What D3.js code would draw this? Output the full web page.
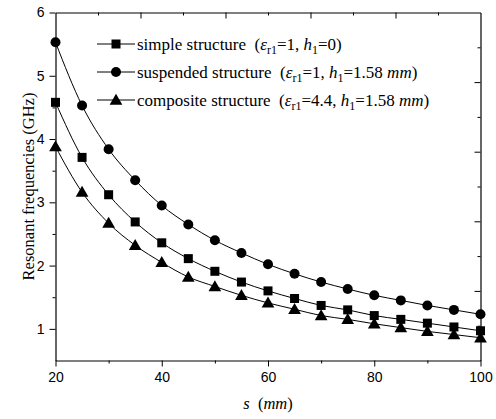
<!DOCTYPE html>
<html>
<head>
<meta charset="utf-8">
<script src="https://cdn.jsdelivr.net/npm/d3@7"></script>
<style>
  body { margin: 0; background: #fff; }
  svg { display: block; }
  .tick text { font-family: "Liberation Sans", Arial, sans-serif; font-size: 14px; fill: #000; }
  .lbl { font-family: "Liberation Serif", "Times New Roman", serif; fill: #000; white-space: pre; }
  .lbl tspan { font-family: "Liberation Serif", "Times New Roman", serif; }
</style>
</head>
<body>
<svg id="chart" width="496" height="419"></svg>
<script>
// spacing s (mm)
const sValues = [20, 25, 30, 35, 40, 45, 50, 55, 60, 65, 70, 75, 80, 85, 90, 95, 100];

// resonant frequencies (GHz)
const simpleVals    = [4.58, 3.71, 3.12, 2.69, 2.36, 2.11, 1.91, 1.74, 1.60, 1.48, 1.37, 1.30, 1.21, 1.15, 1.09, 1.03, 0.97];
const suspendedVals = [5.53, 4.53, 3.84, 3.35, 2.95, 2.65, 2.40, 2.20, 2.02, 1.87, 1.74, 1.63, 1.53, 1.45, 1.37, 1.30, 1.23];
const compositeVals = [3.88, 3.16, 2.67, 2.32, 2.05, 1.82, 1.67, 1.53, 1.41, 1.31, 1.21, 1.15, 1.08, 1.02, 0.96, 0.91, 0.86];

const xTicks = [20, 40, 60, 80, 100];
const yTicks = [1, 2, 3, 4, 5, 6];

const series = [
  {name: "simple structure", marker: "square", vals: simpleVals, eps: "1", h: "0", mm: false},
  {name: "suspended structure", marker: "circle", vals: suspendedVals, eps: "1", h: "1.58", mm: true},
  {name: "composite structure", marker: "triangle", vals: compositeVals, eps: "4.4", h: "1.58", mm: true}
];

const svg = d3.select("#chart");
const pLeft = 55.5, pRight = 480.5, pTop = 12.5, pBottom = 360.5;

const x = d3.scaleLinear().domain([20, 100]).range([pLeft, pRight]);
const y = d3.scaleLinear().domain([0.5, 6]).range([pBottom, pTop]);

// frame mirror axes (top/right have their own tick spacing, no labels)
const xTop = d3.scaleLinear().domain([0, 1]).range([pLeft, pRight]);
const yRight = d3.scaleLinear().domain([0, 1]).range([pBottom, pTop]);

function styleAxis(g) {
  g.select(".domain").attr("stroke", "#000").attr("stroke-width", 1.2);
  g.selectAll("line").attr("stroke", "#000");
}

// bottom
svg.append("g").attr("transform", `translate(0,${pBottom})`)
  .call(d3.axisBottom(x).tickValues(d3.range(30, 100, 20)).tickSize(3).tickFormat(""))
  .call(styleAxis).call(g => g.select(".domain").remove());
svg.append("g").attr("transform", `translate(0,${pBottom})`)
  .call(d3.axisBottom(x).tickValues(xTicks).tickSize(6).tickSizeOuter(0).tickPadding(6).tickFormat(d3.format("d")))
  .call(styleAxis);

// left
svg.append("g").attr("transform", `translate(${pLeft},0)`)
  .call(d3.axisLeft(y).tickValues(d3.range(1.5, 6, 1)).tickSize(3).tickFormat(""))
  .call(styleAxis).call(g => g.select(".domain").remove());
svg.append("g").attr("transform", `translate(${pLeft},0)`)
  .call(d3.axisLeft(y).tickValues(yTicks).tickSize(6).tickSizeOuter(0).tickPadding(5).tickFormat(d3.format("d")))
  .call(styleAxis);

// top (inward ticks)
svg.append("g").attr("transform", `translate(0,${pTop})`)
  .call(d3.axisTop(xTop).tickValues([0.1, 0.3, 0.5, 0.7, 0.9]).tickSize(-3).tickFormat(""))
  .call(styleAxis).call(g => g.select(".domain").remove());
svg.append("g").attr("transform", `translate(0,${pTop})`)
  .call(d3.axisTop(xTop).tickValues([0.2, 0.4, 0.6, 0.8]).tickSize(-6).tickSizeOuter(0).tickFormat(""))
  .call(styleAxis);

// right (inward ticks)
svg.append("g").attr("transform", `translate(${pRight},0)`)
  .call(d3.axisRight(yRight).tickValues([0.1, 0.3, 0.5, 0.7, 0.9]).tickSize(-3).tickFormat(""))
  .call(styleAxis).call(g => g.select(".domain").remove());
svg.append("g").attr("transform", `translate(${pRight},0)`)
  .call(d3.axisRight(yRight).tickValues([0.2, 0.4, 0.6, 0.8]).tickSize(-6).tickSizeOuter(0).tickFormat(""))
  .call(styleAxis);

// markers
function drawMarker(g, kind, cx, cy) {
  if (kind === "square") {
    g.append("rect").attr("x", cx - 4.5).attr("y", cy - 4.5).attr("width", 9).attr("height", 9).attr("fill", "#000");
  } else if (kind === "circle") {
    g.append("circle").attr("cx", cx).attr("cy", cy).attr("r", 5).attr("fill", "#000");
  } else {
    g.append("path").attr("d", d3.symbol(d3.symbolTriangle, 70)()).attr("transform", `translate(${cx},${cy + 1})`).attr("fill", "#000");
  }
}

const line = d3.line().x(d => x(d[0])).y(d => y(d[1])).curve(d3.curveMonotoneX);

series.forEach(s => {
  const pts = sValues.map((v, i) => [v, s.vals[i]]);
  svg.append("path").datum(pts).attr("d", line)
    .attr("fill", "none").attr("stroke", "#000").attr("stroke-width", 1);
  const mg = svg.append("g");
  pts.forEach(p => drawMarker(mg, s.marker, x(p[0]), y(p[1])));
});

// legend
const legY = [44, 72, 100];
series.forEach((s, i) => {
  const ly = legY[i];
  svg.append("line").attr("x1", 97).attr("x2", 135).attr("y1", ly).attr("y2", ly)
    .attr("stroke", "#000").attr("stroke-width", 1);
  drawMarker(svg, s.marker, 116, ly);
  const t = svg.append("text").attr("class", "lbl").attr("x", 137).attr("y", ly + 5.5)
    .style("font-size", "17px");
  t.append("tspan").text(s.name + "  (");
  t.append("tspan").style("font-style", "italic").text("ε");
  t.append("tspan").attr("dy", 4).style("font-size", "12px").text("r1");
  t.append("tspan").attr("dy", -4).text("=" + s.eps + ", ");
  t.append("tspan").style("font-style", "italic").text("h");
  t.append("tspan").attr("dy", 4).style("font-size", "12px").text("1");
  t.append("tspan").attr("dy", -4).text("=" + s.h + (s.mm ? " " : ""));
  if (s.mm) t.append("tspan").style("font-style", "italic").text("mm");
  t.append("tspan").text(")");
});

// axis titles
svg.append("text").attr("class", "lbl")
  .attr("transform", `translate(34,${(pTop + pBottom) / 2}) rotate(-90)`)
  .attr("text-anchor", "middle").style("font-size", "16.5px")
  .text("Resonant frequencies (GHz)");

const xt = svg.append("text").attr("class", "lbl")
  .attr("x", 268).attr("y", 409)
  .attr("text-anchor", "middle").style("font-size", "16.5px");
xt.append("tspan").style("font-style", "italic").text("s");
xt.append("tspan").text("  (");
xt.append("tspan").style("font-style", "italic").text("mm");
xt.append("tspan").text(")");
</script>
</body>
</html>
